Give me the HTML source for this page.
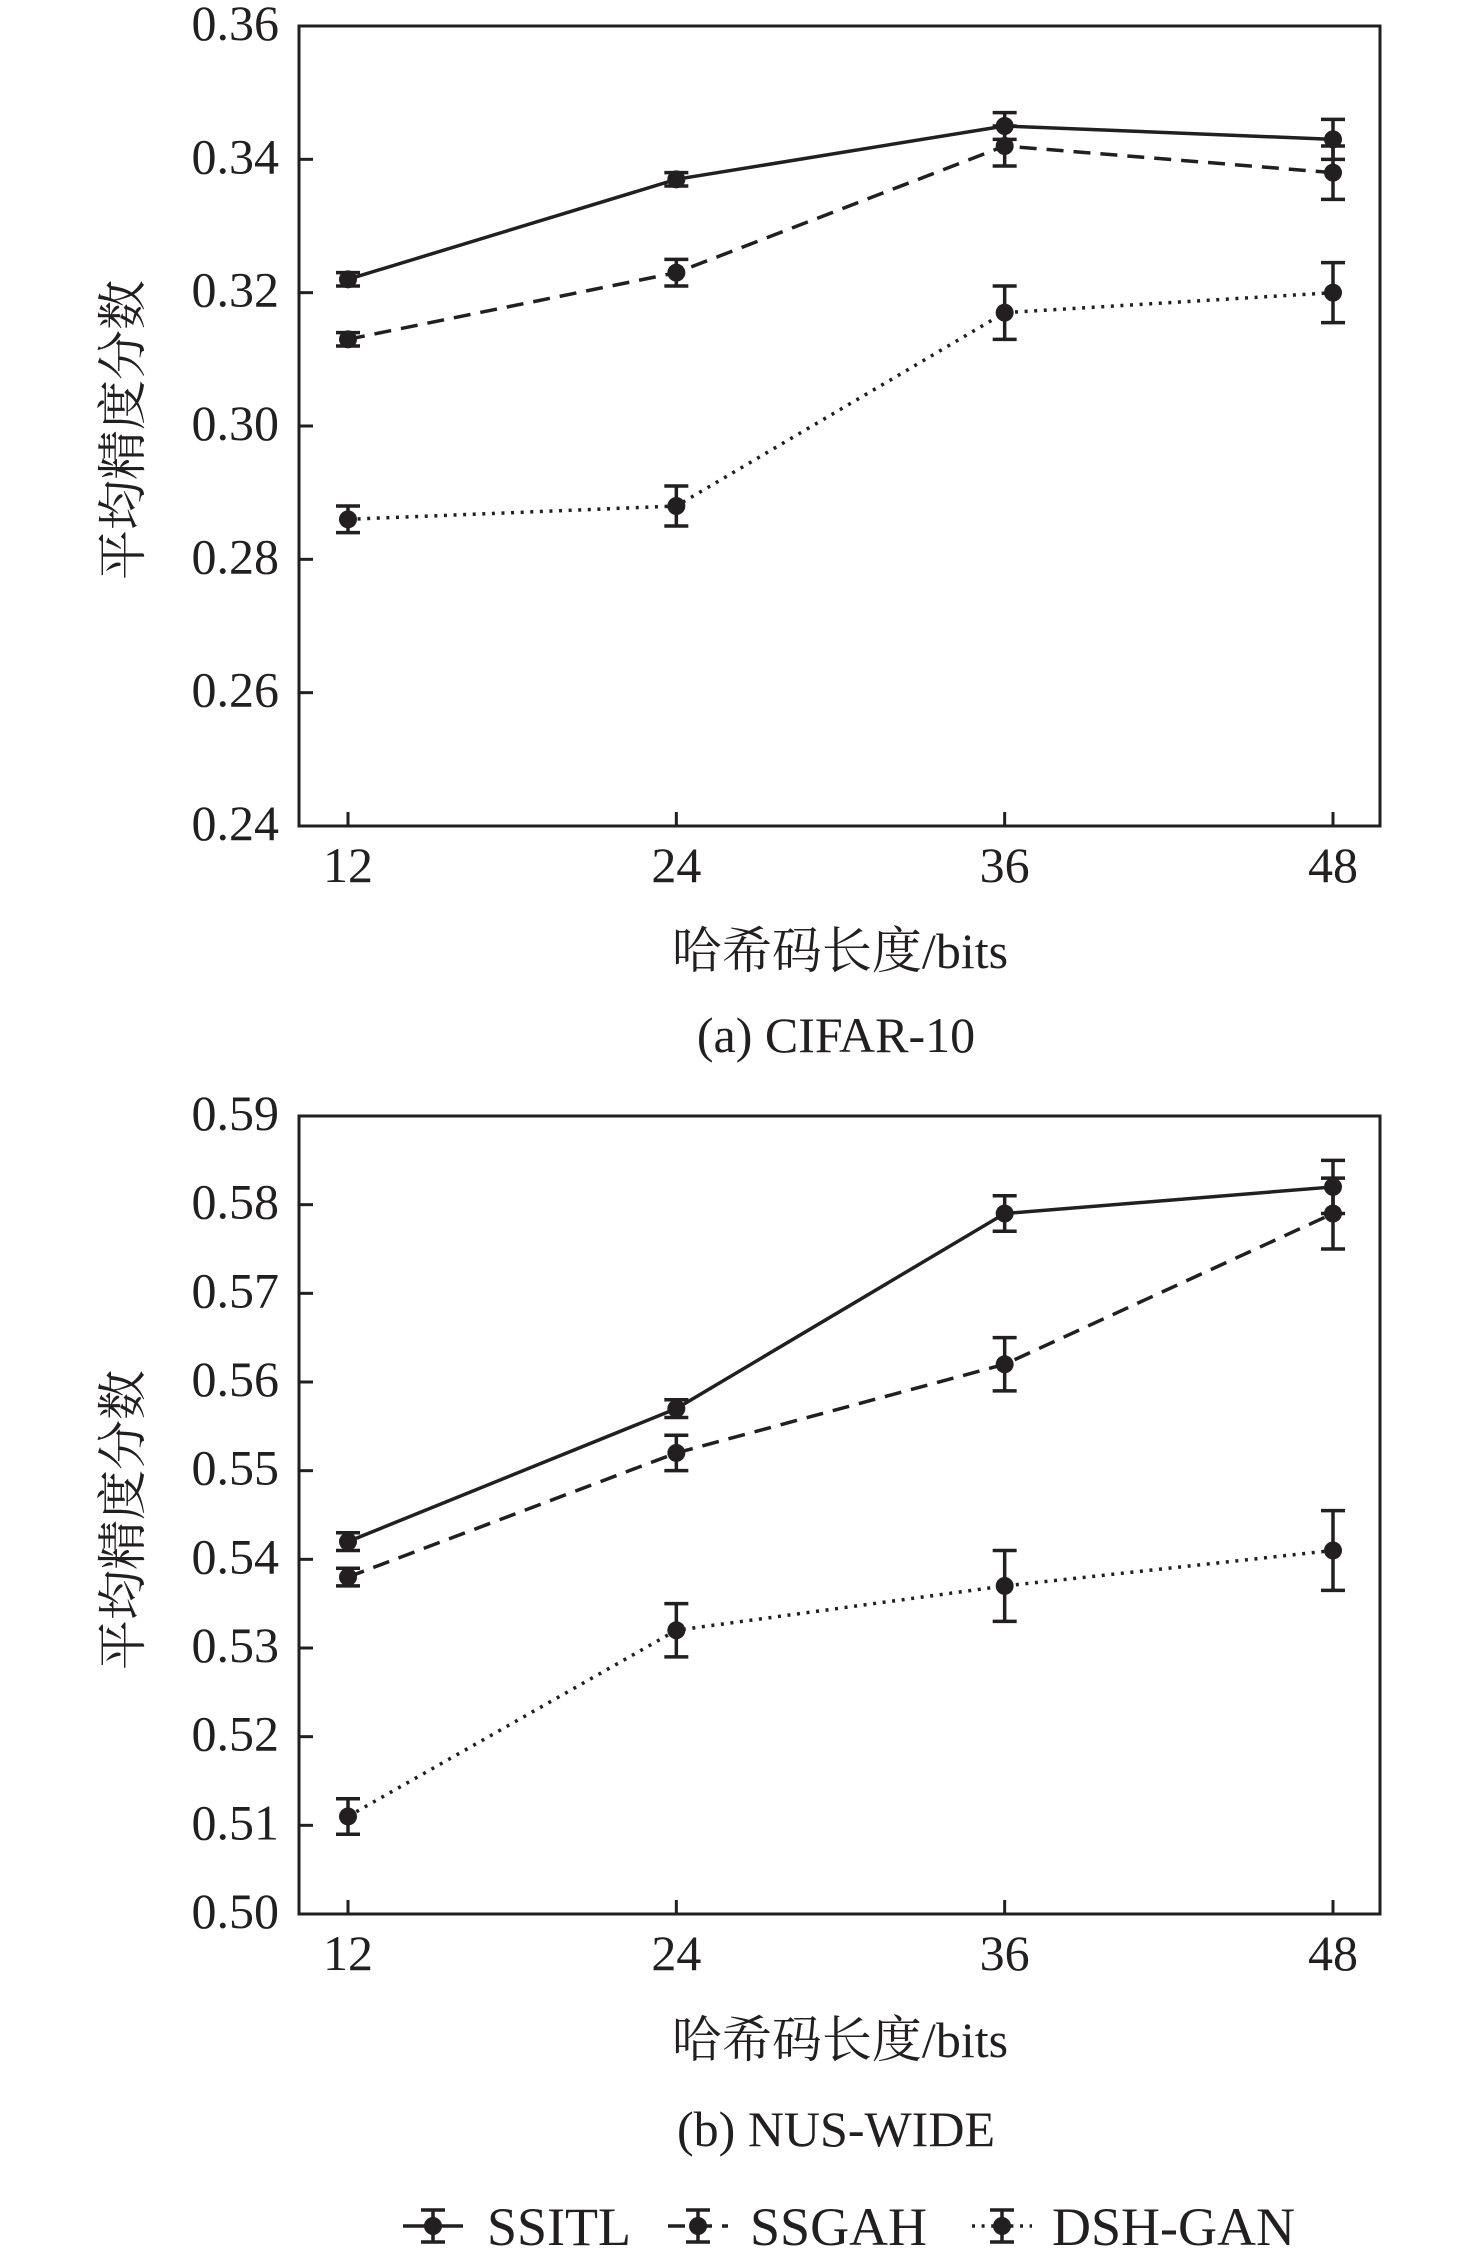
<!DOCTYPE html>
<html><head><meta charset="utf-8"><style>
html,body{margin:0;padding:0;background:#fff;}
svg{display:block;}
text{font-family:"Liberation Serif","Noto Serif CJK SC",serif;fill:#231f20;}
</style></head><body>
<svg id="chart" width="1476" height="2251" viewBox="0 0 1476 2251" xmlns="http://www.w3.org/2000/svg"></svg>
<script>
const categories = [12, 24, 36, 48];
const cifarTicks = ["0.24","0.26","0.28","0.30","0.32","0.34","0.36"];
const nusTicks = ["0.50","0.51","0.52","0.53","0.54","0.55","0.56","0.57","0.58","0.59"];
const cifarSSITL = [0.322, 0.337, 0.345, 0.343];
const cifarSSITLErr = [0.001, 0.001, 0.002, 0.003];
const cifarSSGAH = [0.313, 0.323, 0.342, 0.338];
const cifarSSGAHErr = [0.001, 0.002, 0.003, 0.004];
const cifarDSH = [0.286, 0.288, 0.317, 0.320];
const cifarDSHErr = [0.002, 0.003, 0.004, 0.0045];
const nusSSITL = [0.542, 0.557, 0.579, 0.582];
const nusSSITLErr = [0.001, 0.001, 0.002, 0.003];
const nusSSGAH = [0.538, 0.552, 0.562, 0.579];
const nusSSGAHErr = [0.001, 0.002, 0.003, 0.004];
const nusDSH = [0.511, 0.532, 0.537, 0.541];
const nusDSHErr = [0.002, 0.003, 0.004, 0.0045];
const seriesNames = ["SSITL", "SSGAH", "DSH-GAN"];

const NS = "http://www.w3.org/2000/svg";
const svg = document.getElementById('chart');
const C = "#231f20";
const dashes = ["", "17 10", "3 6.6"];
function mk(tag, attrs, parent){
  const e = document.createElementNS(NS, tag);
  for (const k in attrs) e.setAttribute(k, attrs[k]);
  (parent||svg).appendChild(e); return e;
}
function xScale(v){ return 348 + (v - 12) / 36 * (1333 - 348); }

function panel(name, top, bottom, ticks, series, errs, caption, captionY, xlabelY, titleY){
  const g = mk('g', {});
  
  
  const ymin = parseFloat(ticks[0]), ymax = parseFloat(ticks[ticks.length-1]);
  const yScale = v => bottom - (v - ymin) / (ymax - ymin) * (bottom - top);
  const frame = mk('rect', {x:299, y:top, width:1081, height:bottom-top, fill:'none', stroke:C, 'stroke-width':3}, g);
  
  
  ticks.forEach(t => {
    const y = yScale(parseFloat(t));
    const tk = mk('line', {x1:299, x2:313, y1:y, y2:y, stroke:C, 'stroke-width':3}, g);
    
    
    const lb = mk('text', {x:279, y:y+14, 'text-anchor':'end', 'font-size':50}, g);
    
    
    lb.textContent = t;
  });
  categories.forEach(c => {
    const x = xScale(c);
    const tk = mk('line', {x1:x, x2:x, y1:bottom, y2:bottom-14, stroke:C, 'stroke-width':3}, g);
    
    
    const lb = mk('text', {x:x, y:bottom+56, 'text-anchor':'middle', 'font-size':50}, g);
    
    
    lb.textContent = c;
  });
  series.forEach((s, i) => {
    const pts = s.map((v, j) => xScale(categories[j]) + ',' + yScale(v)).join(' ');
    const pl = mk('polyline', {points:pts, fill:'none', stroke:C, 'stroke-width':3.5, 'stroke-dasharray':dashes[i]}, g);
    
    
    s.forEach((v, j) => {
      const x = xScale(categories[j]);
      const y1 = yScale(v + errs[i][j]), y2 = yScale(v - errs[i][j]);
      const eb = mk('path', {d:`M${x},${y1}V${y2}M${x-12},${y1}H${x+12}M${x-12},${y2}H${x+12}`, stroke:C, 'stroke-width':3.5, fill:'none'}, g);
      
      
      const m = mk('circle', {cx:x, cy:yScale(v), r:9, fill:C}, g);
      
      
    });
  });
  const yt = mk('text', {x:0, y:0, 'text-anchor':'middle', 'font-size':50, transform:`translate(140,${titleY}) rotate(-90)`}, g);
  
  
  yt.textContent = '平均精度分数';
  const xt = mk('text', {x:840, y:xlabelY, 'text-anchor':'middle', 'font-size':50}, g);
  
  
  xt.textContent = '哈希码长度/bits';
  const cp = mk('text', {x:836, y:captionY, 'text-anchor':'middle', 'font-size':50}, g);
  
  
  cp.textContent = caption;
}

panel('cifar', 26, 826, cifarTicks, [cifarSSITL, cifarSSGAH, cifarDSH], [cifarSSITLErr, cifarSSGAHErr, cifarDSHErr], '(a) CIFAR-10', 1052, 968, 430);
panel('nus', 1116, 1914, nusTicks, [nusSSITL, nusSSGAH, nusDSH], [nusSSITLErr, nusSSGAHErr, nusDSHErr], '(b) NUS-WIDE', 2146, 2057, 1520);

const legend = mk('g', {});


const lx = [403, 668, 972], tx = [487, 750, 1052];
seriesNames.forEach((n, i) => {
  const cy = 2226, x0 = lx[i], x1 = lx[i] + 60, xm = (x0 + x1) / 2;
  const ln = mk('line', {x1:x0, x2:x1, y1:cy, y2:cy, stroke:C, 'stroke-width':3.5, 'stroke-dasharray':dashes[i]}, legend);
  
  
  const eb = mk('path', {d:`M${xm},${cy-16}V${cy+16}M${xm-12},${cy-16}H${xm+12}M${xm-12},${cy+16}H${xm+12}`, stroke:C, 'stroke-width':3.5, fill:'none'}, legend);
  
  
  const m = mk('circle', {cx:xm, cy:cy, r:9, fill:C}, legend);
  
  
  const t = mk('text', {x:tx[i], y:cy+19, 'font-size':54}, legend);
  
  
  t.textContent = n;
});
</script>
</body></html>
